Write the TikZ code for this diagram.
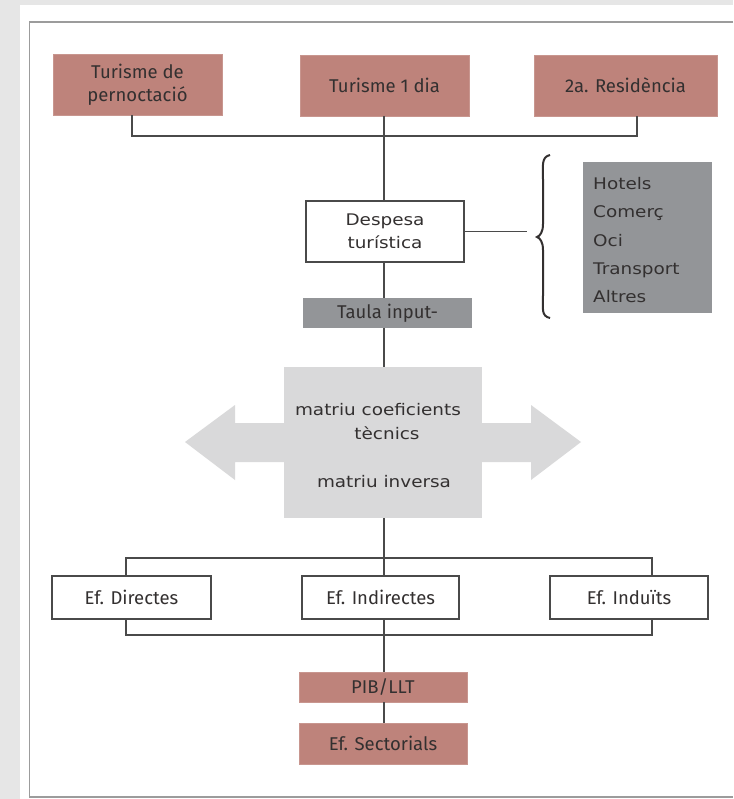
\documentclass[tikz,border=0pt]{standalone}
\usepackage{fontspec}
\setmainfont{Fira Sans}
\newfontfamily\extf[FakeStretch=1.15]{DejaVu Sans}
\definecolor{rosec}{HTML}{BE837B}
\definecolor{darkg}{HTML}{939598}
\definecolor{lightg}{HTML}{D9D9DA}
\definecolor{bgc}{HTML}{E6E6E6}
\definecolor{framec}{HTML}{9C9C9C}
\definecolor{lineg}{HTML}{4A4A4A}
\definecolor{txt}{HTML}{333030}
\begin{document}
\begin{tikzpicture}[x=1pt,y=-1pt,
  cond/.style={font=\fontsize{18.5}{23}\selectfont, text=txt, align=center},
  ext/.style={font=\extf\fontsize{16}{23}\selectfont, text=txt, align=center},
  rose/.style={cond, fill=rosec, draw=rosec!85!white, line width=0.8pt, inner sep=0pt},
  wbox/.style={fill=white, draw=lineg, line width=1.4pt, inner sep=0pt},
  dbox/.style={fill=darkg, draw=none, inner sep=0pt},
  catt/.style={ext, anchor=base west, inner sep=0pt},
  conn/.style={draw=lineg, line width=1.5pt}]
\useasboundingbox (0,0) rectangle (733,799);
\fill[bgc] (0,0) rectangle (733,799);
\fill[white] (19.6,5) rectangle (733,799);
\draw[framec, line width=1.2pt] (733,22) -- (29.5,22) -- (29.5,797) -- (733,797);

% top boxes
\node[rose, minimum width=169pt, minimum height=61pt] (t1) at (137.5,84.5) {Turisme de\\pernoctació};
\node[rose, minimum width=169pt, minimum height=61pt] (t2) at (384.5,85.5) {Turisme 1 dia};
\node[rose, minimum width=183pt, minimum height=61pt] (t3) at (625.5,85.5) {2a. Residència};
\coordinate (j1) at (384,136);
\coordinate (l1) at (132,136);
\coordinate (r1) at (637,136);

% despesa
\node[wbox, ext, minimum width=158pt, minimum height=61pt] (desp) at (385,231.5) {Despesa\\turística};
\coordinate (dend) at (527,231.5);

% brace
\coordinate (btop) at (550,155);
\coordinate (bbot) at (550,318);
\draw[draw=txt, line width=2pt] (btop) .. controls (541,157) and (543,166) .. (543,180) -- (543,224)
  .. controls (543,232) and (540,236) .. (537,237) .. controls (540,238) and (543,242) .. (543,250)
  -- (543,295) .. controls (543,309) and (541,316) .. (bbot);

% categories box
\node[dbox, minimum width=129pt, minimum height=151pt] (cat) at (647.5,237.5) {};
\node[catt] (c1) at (593,190) {Hotels};
\node[catt] (c2) at (593,218) {Comerç};
\node[catt] (c3) at (593,246.5) {Oci};
\node[catt] (c4) at (593,274.5) {Transport};
\node[catt] (c5) at (593,302) {Altres};

% taula
\node[dbox, cond, minimum width=169pt, minimum height=30pt] (taula) at (387.5,313) {Taula input-};

% matrix double arrow
\fill[lightg] (185,442) -- (235,405) -- (235,423) -- (531,423) -- (531,405) -- (581,442)
  -- (531,480) -- (531,462) -- (235,462) -- (235,480) -- cycle;
\node[fill=lightg, inner sep=0pt, minimum width=198pt, minimum height=151pt] (mat) at (383,442.5) {};
\node[ext, anchor=base] (m1) at (378,415) {matriu coeficients};
\node[ext, anchor=base] (m2) at (387,439) {tècnics};
\node[ext, anchor=base] (m3) at (384,487) {matriu inversa};

% effects
\node[wbox, cond, minimum width=159pt, minimum height=43pt] (dir) at (131.5,597.5) {Ef. Directes};
\node[wbox, cond, minimum width=157pt, minimum height=43pt] (ind) at (380.5,597.5) {Ef. Indirectes};
\node[wbox, cond, minimum width=158pt, minimum height=43pt] (indu) at (629,597.5) {Ef. Induïts};
\coordinate (et) at (384,558);
\coordinate (eb) at (384,635);
\coordinate (xl) at (126,0);
\coordinate (xr) at (652,0);

% bottom boxes
\node[rose, minimum width=168pt, minimum height=30pt] (pib) at (383,687) {PIB/LLT};
\node[rose, minimum width=168pt, minimum height=41pt] (sect) at (383,743.5) {Ef. Sectorials};

% connectors
\draw[conn] (t1.south -| l1) -- (l1) -- (r1) -- (t3.south -| r1);
\draw[conn] (t2.south -| j1) -- (desp.north -| j1);
\draw[conn] (desp.east) -- (dend);
\draw[conn] (desp.south -| j1) -- (taula.north -| j1);
\draw[conn] (taula.south -| j1) -- (mat.north -| j1);
\draw[conn] (mat.south -| et) -- (ind.north -| et);
\draw[conn] (dir.north -| xl) -- (et -| xl) -- (et -| xr) -- (indu.north -| xr);
\draw[conn] (dir.south -| xl) -- (eb -| xl) -- (eb -| xr) -- (indu.south -| xr);
\draw[conn] (ind.south -| eb) -- (pib.north -| eb);
\draw[conn] (pib.south -| eb) -- (sect.north -| eb);
\end{tikzpicture}
\end{document}
